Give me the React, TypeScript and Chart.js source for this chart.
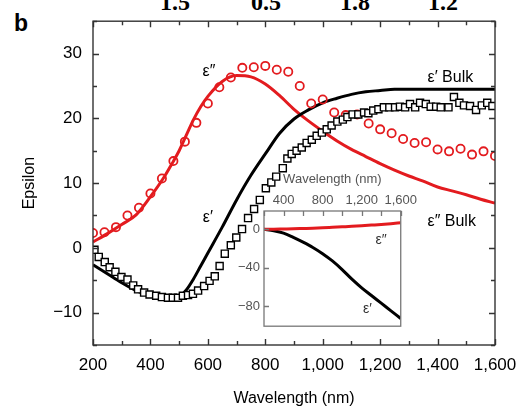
import React, { useEffect, useRef } from "react";
import { Chart, registerables } from "chart.js";

Chart.register(...registerables);

// ---------- data ----------
const fitWavelength = [200, 250, 300, 350, 400, 450, 475, 500, 525, 550, 575, 600, 650, 700, 750, 800, 850, 900, 950, 1000, 1050, 1100, 1150, 1200, 1250, 1300, 1350, 1400, 1450, 1500, 1550, 1600];
const bulkEpsReal = [-2.6, -4.0, -5.4, -6.6, -7.4, -7.9, -8.0, -7.6, -6.5, -4.8, -2.8, -0.8, 3.2, 7.4, 11.2, 14.5, 17.7, 19.9, 21.3, 22.4, 23.1, 23.7, 24.1, 24.3, 24.5, 24.5, 24.5, 24.5, 24.5, 24.5, 24.5, 24.5];
const bulkEpsImag = [0.9, 2.2, 3.6, 5.1, 7.9, 11.1, 13.0, 15.0, 17.4, 19.8, 21.8, 23.4, 25.7, 26.6, 26.4, 25.3, 23.5, 21.4, 19.6, 18.0, 16.5, 15.2, 14.1, 13.0, 12.0, 11.1, 10.3, 9.4, 8.8, 8.2, 7.5, 6.9];

const circleWavelength = [200, 240, 280, 320, 360, 400, 440, 480, 520, 560, 600, 640, 680, 720, 760, 800, 840, 880, 920, 960, 1000, 1040, 1080, 1120, 1160, 1200, 1240, 1280, 1320, 1360, 1400, 1440, 1480, 1520, 1560, 1600];
const circleEpsImag = [2.3, 2.4, 3.2, 5.0, 6.2, 8.4, 10.7, 13.4, 16.4, 19.3, 22.3, 24.8, 26.3, 27.8, 27.9, 28.1, 27.5, 27.2, 25.0, 22.3, 22.9, 20.9, 20.5, 20.6, 19.2, 18.3, 17.7, 16.8, 16.2, 16.3, 15.2, 14.9, 15.3, 14.4, 14.9, 14.2];

const squareWavelength = [205, 220, 241, 258, 278, 299, 320, 340, 357, 378, 397, 420, 440, 461, 478, 496, 513, 531, 548, 566, 587, 606, 624, 641, 659, 680, 699, 719, 740, 761, 781, 802, 821, 838, 861, 877, 892, 909, 927, 944, 962, 979, 997, 1014, 1031, 1051, 1070, 1086, 1104, 1124, 1144, 1159, 1176, 1194, 1213, 1232, 1252, 1269, 1287, 1304, 1322, 1339, 1359, 1376, 1395, 1411, 1438, 1457, 1476, 1492, 1513, 1534, 1554, 1573, 1591];
const squareEpsReal = [-0.3, -1.4, -2.2, -3.0, -3.7, -4.5, -4.9, -5.8, -6.4, -6.9, -7.2, -7.4, -7.6, -7.7, -7.7, -7.7, -7.4, -7.3, -7.1, -6.6, -5.9, -5.1, -4.4, -2.8, -0.9, 0.4, 1.6, 2.9, 4.6, 6.0, 7.4, 9.2, 10.1, 11.0, 12.3, 13.8, 14.5, 15.0, 15.5, 16.2, 16.7, 17.3, 17.8, 18.3, 18.9, 19.5, 19.8, 20.2, 20.6, 20.6, 20.9, 20.8, 21.2, 21.4, 21.7, 21.7, 21.7, 21.8, 21.7, 22.2, 21.7, 22.4, 22.2, 21.8, 21.8, 21.7, 21.7, 23.3, 22.4, 22.0, 21.9, 21.3, 22.0, 22.4, 21.9];

const xMajorTicks = [200, 400, 600, 800, 1000, 1200, 1400, 1600];
const xMinorTicks = [300, 500, 700, 900, 1100, 1300, 1500];
const yMajorTicks = [-10, 0, 10, 20, 30];
const yMinorTicks = [-15, -5, 5, 15, 25, 35];

const insetWavelength = [200, 300, 400, 500, 600, 700, 800, 900, 1000, 1100, 1200, 1300, 1400, 1500, 1600];
const insetEpsReal = [0, -1.5, -4, -8.5, -13.5, -19, -25.5, -33, -42, -52, -61, -69, -77, -85, -93];
const insetEpsImag = [0, 0.1, 0.3, 0.5, 0.8, 1.1, 1.5, 2.0, 2.5, 3.0, 3.6, 4.3, 5.0, 5.8, 6.7];
const insetXTicks = [200, 400, 600, 800, 1000, 1200, 1400, 1600];
const insetXLabels = ["", "400", "", "800", "", "1,200", "", "1,600"];
const insetYTicks = [-80, -40, 0];

const panelNumbers = ["1.5", "0.5", "1.8", "1.2"];

const RED = "#e31b1f";
const SANS = '"Liberation Sans", Arial, sans-serif';

const minus = (v: number) => (v < 0 ? "\u2212" + Math.abs(v) : String(v));

const frameTicksPlugin = {
  id: "frameTicks",
  afterDraw(chart: any, _args: any, opts: any) {
    const { ctx, chartArea: a, scales } = chart;
    const xs = scales.x;
    const ys = scales.y;
    ctx.save();
    ctx.strokeStyle = opts.color;
    ctx.lineWidth = opts.width;
    ctx.beginPath();
    const seg = (x1: number, y1: number, x2: number, y2: number) => {
      ctx.moveTo(x1, y1);
      ctx.lineTo(x2, y2);
    };
    const xt = (vals: number[], len: number) => {
      vals.forEach((v) => {
        const px = Math.round(xs.getPixelForValue(v)) + 0.5;
        if (opts.bottom) seg(px, a.bottom, px, a.bottom - len);
        if (opts.top) seg(px, a.top, px, a.top + len);
      });
    };
    const yt = (vals: number[], len: number) => {
      vals.forEach((v) => {
        const py = Math.round(ys.getPixelForValue(v)) + 0.5;
        if (opts.left) seg(a.left, py, a.left + len, py);
        if (opts.right) seg(a.right, py, a.right - len, py);
      });
    };
    xt(opts.xMajor, opts.major);
    xt(opts.xMinor, opts.minor);
    yt(opts.yMajor, opts.major);
    yt(opts.yMinor, opts.minor);
    ctx.stroke();
    ctx.strokeRect(a.left, a.top, a.right - a.left, a.bottom - a.top);
    (opts.labels || []).forEach((l: any) => {
      ctx.font = l.font;
      ctx.fillStyle = l.color || "#000";
      ctx.textAlign = l.align || "center";
      ctx.textBaseline = "middle";
      ctx.fillText(l.text, xs.getPixelForValue(l.x), ys.getPixelForValue(l.y));
    });
    ctx.restore();
  },
};

const whiteAreaPlugin = {
  id: "whiteArea",
  beforeDatasetsDraw(chart: any) {
    const { ctx, chartArea: a } = chart;
    ctx.save();
    ctx.fillStyle = "#fff";
    ctx.fillRect(a.left, a.top, a.right - a.left, a.bottom - a.top);
    ctx.restore();
  },
};

const pts = (xs: number[], ys: number[]) => xs.map((x, i) => ({ x, y: ys[i] }));

function MainChart() {
  const ref = useRef<HTMLCanvasElement>(null);
  useEffect(() => {
    const chart = new Chart(ref.current as HTMLCanvasElement, {
      type: "line",
      data: {
        datasets: [
          {
            data: pts(squareWavelength, squareEpsReal),
            showLine: false,
            pointStyle: "rect",
            pointRadius: 5,
            pointBorderWidth: 1.4,
            pointBorderColor: "#000",
            pointBackgroundColor: "#fff",
            order: 0,
          },
          {
            data: pts(circleWavelength, circleEpsImag),
            showLine: false,
            pointStyle: "circle",
            pointRadius: 4.1,
            pointBorderWidth: 1.8,
            pointBorderColor: RED,
            pointBackgroundColor: "rgba(0,0,0,0)",
            order: 1,
          },
          {
            data: pts(fitWavelength, bulkEpsReal),
            borderColor: "#000",
            borderWidth: 3,
            pointRadius: 0,
            cubicInterpolationMode: "monotone",
            order: 2,
          },
          {
            data: pts(fitWavelength, bulkEpsImag),
            borderColor: RED,
            borderWidth: 3,
            pointRadius: 0,
            cubicInterpolationMode: "monotone",
            order: 3,
          },
        ],
      },
      options: {
        animation: false,
        responsive: false,
        devicePixelRatio: 1,
        layout: { padding: { left: 0, top: 18, right: 35, bottom: 0 } },
        plugins: {
          legend: { display: false },
          tooltip: { enabled: false },
          frameTicks: {
            color: "#333",
            width: 1.4,
            major: 6,
            minor: 4,
            top: true,
            bottom: true,
            left: true,
            right: true,
            xMajor: xMajorTicks,
            xMinor: xMinorTicks,
            yMajor: yMajorTicks,
            yMinor: yMinorTicks,
            labels: [
              { text: "\u03b5\u2033", x: 604, y: 27.2, font: `16px ${SANS}` },
              { text: "\u03b5\u2032", x: 600, y: 4.7, font: `16px ${SANS}` },
              { text: "\u03b5\u2032 Bulk", x: 1365, y: 26.3, font: `16px ${SANS}`, align: "left" },
              { text: "\u03b5\u2033 Bulk", x: 1365, y: 4.1, font: `16px ${SANS}`, align: "left" },
            ],
          },
        } as any,
        scales: {
          x: {
            type: "linear",
            min: 200,
            max: 1600,
            grid: { display: false, drawTicks: false },
            border: { display: false },
            afterBuildTicks: (s: any) => {
              s.ticks = xMajorTicks.map((v) => ({ value: v }));
            },
            afterFit: (s: any) => {
              s.height = 67;
            },
            ticks: {
              padding: 10,
              color: "#000",
              maxRotation: 0,
              autoSkip: false,
              font: { family: SANS, size: 17 },
              callback: (v: any) => Number(v).toLocaleString("en-US"),
            },
            title: {
              display: true,
              text: "Wavelength (nm)",
              color: "#000",
              font: { family: SANS, size: 16 },
              padding: { top: 0, bottom: 4 },
            },
          },
          y: {
            type: "linear",
            min: -15,
            max: 35,
            grid: { display: false, drawTicks: false },
            border: { display: false },
            afterBuildTicks: (s: any) => {
              s.ticks = yMajorTicks.map((v) => ({ value: v }));
            },
            afterFit: (s: any) => {
              s.width = 93;
            },
            ticks: {
              padding: 11,
              color: "#000",
              font: { family: SANS, size: 17 },
              callback: (v: any) => minus(Number(v)),
            },
            title: {
              display: true,
              text: "Epsilon",
              color: "#000",
              font: { family: SANS, size: 16 },
              padding: { top: 20, bottom: 0 },
            },
          },
        },
      },
      plugins: [frameTicksPlugin],
    } as any);
    return () => chart.destroy();
  }, []);
  return <canvas ref={ref} width={530} height={412} style={{ position: "absolute", left: 0, top: 0 }} />;
}

function InsetChart() {
  const ref = useRef<HTMLCanvasElement>(null);
  useEffect(() => {
    const chart = new Chart(ref.current as HTMLCanvasElement, {
      type: "line",
      data: {
        datasets: [
          {
            data: pts(insetWavelength, insetEpsImag),
            borderColor: RED,
            borderWidth: 3,
            pointRadius: 0,
            cubicInterpolationMode: "monotone",
          },
          {
            data: pts(insetWavelength, insetEpsReal),
            borderColor: "#000",
            borderWidth: 3,
            pointRadius: 0,
            cubicInterpolationMode: "monotone",
          },
        ],
      },
      options: {
        animation: false,
        responsive: false,
        devicePixelRatio: 1,
        layout: { padding: { left: 0, top: 0, right: 8, bottom: 7 } },
        plugins: {
          legend: { display: false },
          tooltip: { enabled: false },
          frameTicks: {
            color: "#777",
            width: 1.3,
            major: 5,
            minor: 5,
            top: true,
            bottom: false,
            left: true,
            right: false,
            xMajor: insetXTicks,
            xMinor: [],
            yMajor: insetYTicks,
            yMinor: [],
            labels: [
              { text: "\u03b5\u2033", x: 1400, y: -11.5, font: `14px ${SANS}`, color: "#333" },
              { text: "\u03b5\u2032", x: 1260, y: -83, font: `14px ${SANS}`, color: "#333" },
            ],
          },
        } as any,
        scales: {
          x: {
            type: "linear",
            position: "top",
            min: 200,
            max: 1600,
            grid: { display: false, drawTicks: false },
            border: { display: false },
            afterBuildTicks: (s: any) => {
              s.ticks = insetXTicks.map((v) => ({ value: v }));
            },
            afterFit: (s: any) => {
              s.height = 43;
            },
            ticks: {
              padding: 3,
              color: "#555",
              maxRotation: 0,
              autoSkip: false,
              font: { family: SANS, size: 13 },
              callback: (_v: any, i: number) => insetXLabels[i],
            },
            title: {
              display: true,
              text: "Wavelength (nm)",
              color: "#555",
              font: { family: SANS, size: 13 },
              padding: { top: 4, bottom: 0 },
            },
          },
          y: {
            type: "linear",
            min: -101,
            max: 19,
            grid: { display: false, drawTicks: false },
            border: { display: false },
            afterBuildTicks: (s: any) => {
              s.ticks = insetYTicks.map((v) => ({ value: v }));
            },
            afterFit: (s: any) => {
              s.width = 44;
            },
            ticks: {
              padding: 4,
              color: "#555",
              font: { family: SANS, size: 13 },
              callback: (v: any) => minus(Number(v)),
            },
          },
        },
      },
      plugins: [whiteAreaPlugin, frameTicksPlugin],
    } as any);
    return () => chart.destroy();
  }, []);
  return <canvas ref={ref} width={200} height={170} style={{ position: "absolute", left: 220, top: 168 }} />;
}

export default function App() {
  const numLeft = [160, 251, 340, 428];
  return (
    <div style={{ position: "fixed", left: 0, top: 0, width: 530, height: 412, background: "#fff", overflow: "hidden" }}>
      {panelNumbers.map((t, i) => (
        <div
          key={t + i}
          style={{
            position: "absolute",
            left: numLeft[i],
            top: -10,
            font: 'bold 24px "Liberation Serif", serif',
            lineHeight: "24px",
            color: "#000",
            whiteSpace: "nowrap",
          }}
        >
          {t}
        </div>
      ))}
      <div
        style={{
          position: "absolute",
          left: 14,
          top: 12,
          font: `bold 23px ${SANS}`,
          lineHeight: "23px",
          color: "#000",
        }}
      >
        b
      </div>
      <MainChart />
      <InsetChart />
    </div>
  );
}
